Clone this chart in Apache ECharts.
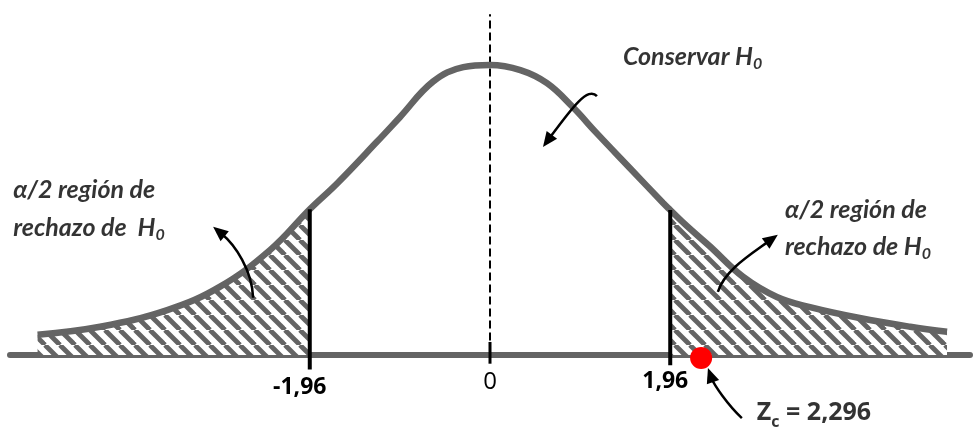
<!DOCTYPE html>
<html>
<head>
<meta charset="utf-8">
<script src="https://cdn.jsdelivr.net/npm/echarts@6/dist/echarts.min.js"></script>
<style>
html, body { margin: 0; padding: 0; background: #fff; }
#main { width: 973px; height: 429px; }
</style>
</head>
<body>
<div id="main"></div>
<script>
// curve: z value and height (density units)
var curveZ = [-4.92, -4.24, -3.51, -2.94, -2.39, -1.96, -1.66, -1.23, -0.98, -0.62, -0.29, 0,
	0.33, 0.62, 0.90, 1.16, 1.52, 1.88, 1.96, 2.14, 2.39, 2.75, 3.12, 3.48, 4.02, 4.57, 4.97];
var curveY = [0.028, 0.039, 0.062, 0.094, 0.145, 0.201, 0.237, 0.294, 0.328, 0.377, 0.397, 0.400,
	0.393, 0.375, 0.342, 0.306, 0.258, 0.210, 0.200, 0.178, 0.150, 0.108, 0.080, 0.066, 0.051, 0.039, 0.032];

var critical = [-1.96, 1.96];
var zc = 2.296;

var tickValues = [-1.96, 0, 1.96];
var tickLabels = ['-1,96', '0', '1,96'];

// arrows: start, control 1, control 2, tip
var arrows = [
	[1.163, 0.357, 1.065, 0.371, 0.891, 0.341, 0.576, 0.287],
	[-2.576, 0.079, -2.587, 0.117, -2.772, 0.152, -3.011, 0.177],
	[2.478, 0.087, 2.554, 0.117, 2.826, 0.138, 3.130, 0.166],
	[2.739, -0.087, 2.587, -0.069, 2.435, -0.041, 2.370, -0.018]
];

// notes (text, position)
var noteText = ['Conservar H_0', 'α/2 región de', 'rechazo de  H_0', 'α/2 región de', 'rechazo de H_0', 'Z_c = 2,296'];
var noteX = [1.446, -5.185, -5.185, 3.207, 3.207, 2.902];
var noteY = [0.411, 0.228, 0.175, 0.200, 0.149, -0.080];
var noteKind = ['it', 'it', 'it', 'it', 'it', 'up'];

var GRAY = '#646464';
var FONT = 'Lato';
var FONT2 = 'Open Sans';

var curve = curveZ.map(function (z, i) { return [z, curveY[i]]; });
var leftTail = curve.filter(function (p) { return p[0] <= critical[0]; });
var rightTail = curve.filter(function (p) { return p[0] >= critical[1]; });
function heightAt(z) {
	for (var i = 0; i < curveZ.length; i++) if (curveZ[i] === z) return curveY[i];
	return 0;
}

// hatch pattern
var hatch = document.createElement('canvas');
hatch.width = 15; hatch.height = 15;
var hc = hatch.getContext('2d');
hc.fillStyle = '#fff';
hc.fillRect(0, 0, 15, 15);
hc.strokeStyle = GRAY;
hc.lineWidth = 4.8;
[-15, 0, 15].forEach(function (o) {
	hc.beginPath();
	hc.moveTo(o, 0);
	hc.lineTo(o + 15, 15);
	hc.stroke();
});

var myChart = echarts.init(document.getElementById('main'));

var option = {
	backgroundColor: '#fff',
	animation: false,
	grid: { left: 10, right: 3, top: 7, bottom: 74, containLabel: false, outerBoundsMode: 'none' },
	xAxis: {
		type: 'value',
		min: -5.22,
		max: 5.22,
		splitLine: { show: false },
		axisTick: { show: false },
		axisLine: { show: true, onZero: false, lineStyle: { color: GRAY, width: 6 } },
		axisLabel: {
			customValues: tickValues,
			margin: 15,
			color: '#000',
			fontFamily: FONT2,
			fontSize: 23,
			fontWeight: 'bold',
			formatter: function (v) {
				var i = tickValues.indexOf(v);
				if (v === 0) return '{r|' + tickLabels[i] + '}';
				return (v < 0 ? '{n|' : '{b|') + tickLabels[i] + '}';
			},
			rich: {
				r: { fontFamily: FONT2, fontSize: 24, fontWeight: 'normal', color: '#000' },
				b: { fontFamily: FONT2, fontSize: 23, fontWeight: 'bold', color: '#000', padding: [0, 10, 0, 0] },
				n: { fontFamily: FONT2, fontSize: 23, fontWeight: 'bold', color: '#000', padding: [6, 20, 0, 0] }
			}
		}
	},
	yAxis: {
		type: 'value',
		show: false,
		min: 0,
		max: 0.48
	},
	series: [{
		type: 'line',
		data: leftTail,
		smooth: 0.4,
		showSymbol: false,
		lineStyle: { width: 0 },
		areaStyle: { color: { image: hatch, repeat: 'repeat' }, opacity: 1 },
		z: 1
	}, {
		type: 'line',
		data: rightTail,
		smooth: 0.4,
		showSymbol: false,
		lineStyle: { width: 0 },
		areaStyle: { color: { image: hatch, repeat: 'repeat' }, opacity: 1 },
		z: 1
	}, {
		type: 'line',
		data: curve,
		smooth: 0.4,
		showSymbol: false,
		lineStyle: { color: GRAY, width: 6.5 },
		z: 3
	}, {
		// centre dashed line
		type: 'line',
		data: [[0, 0.02], [0, 0.47]],
		showSymbol: false,
		lineStyle: { color: '#000', width: 2, type: [8, 4] },
		z: 2
	}, {
		// tick at 0
		type: 'line',
		data: [[0, -0.012], [0, 0.018]],
		showSymbol: false,
		clip: false,
		lineStyle: { color: '#000', width: 3 },
		z: 4
	}, {
		type: 'line',
		data: [[critical[0], -0.02], [critical[0], heightAt(critical[0])]],
		showSymbol: false,
		clip: false,
		lineStyle: { color: '#000', width: 4 },
		z: 4
	}, {
		type: 'line',
		data: [[critical[1], -0.014], [critical[1], heightAt(critical[1])]],
		showSymbol: false,
		clip: false,
		lineStyle: { color: '#000', width: 4 },
		z: 4
	}, {
		type: 'scatter',
		data: [[zc, -0.004]],
		symbolSize: 22,
		clip: false,
		itemStyle: { color: '#ff0000', opacity: 1 },
		z: 6
	}, {
		type: 'custom',
		data: arrows,
		encode: { x: [0, 2, 4, 6], y: [1, 3, 5, 7] },
		clip: false,
		z: 5,
		renderItem: function (params, api) {
			var p0 = api.coord([api.value(0), api.value(1)]);
			var p1 = api.coord([api.value(2), api.value(3)]);
			var p2 = api.coord([api.value(4), api.value(5)]);
			var p3 = api.coord([api.value(6), api.value(7)]);
			var dx = p3[0] - p2[0], dy = p3[1] - p2[1];
			var len = Math.sqrt(dx * dx + dy * dy) || 1;
			var ux = dx / len, uy = dy / len;
			var L = 15, W = 6.5;
			var bx = p3[0] - ux * L, by = p3[1] - uy * L;
			return {
				type: 'group',
				children: [{
					type: 'bezierCurve',
					shape: { x1: p0[0], y1: p0[1], cpx1: p1[0], cpy1: p1[1], cpx2: p2[0], cpy2: p2[1], x2: bx + ux * 4, y2: by + uy * 4 },
					style: { stroke: '#000', lineWidth: 2.5, fill: null }
				}, {
					type: 'polygon',
					shape: { points: [[p3[0], p3[1]], [bx - uy * W, by + ux * W], [bx + uy * W, by - ux * W]] },
					style: { fill: '#000' }
				}]
			};
		}
	}, {
		type: 'scatter',
		data: noteX.map(function (x, i) { return [x, noteY[i], i]; }),
		symbolSize: 0,
		clip: false,
		z: 7,
		label: {
			show: true,
			position: 'right',
			distance: 0,
			formatter: function (p) {
				var i = p.data[2];
				var k = noteKind[i];
				return '{' + k + '|' + noteText[i].replace(/_(\w)/g, '}{' + k + 's|$1}{' + k + '|') + '}';
			},
			rich: {
				it: { fontFamily: FONT, fontSize: 25, fontWeight: 'bold', fontStyle: 'italic', color: '#000' },
				its: { fontFamily: FONT, fontSize: 16, fontWeight: 'bold', fontStyle: 'italic', color: '#000', padding: [14, 0, 0, 0] },
				up: { fontFamily: FONT2, fontSize: 25, fontWeight: 'bold', color: '#000' },
				ups: { fontFamily: FONT2, fontSize: 16, fontWeight: 'bold', color: '#000', padding: [18, 0, 0, 0] }
			}
		}
	}]
};

myChart.setOption(option);
</script>
</body>
</html>
